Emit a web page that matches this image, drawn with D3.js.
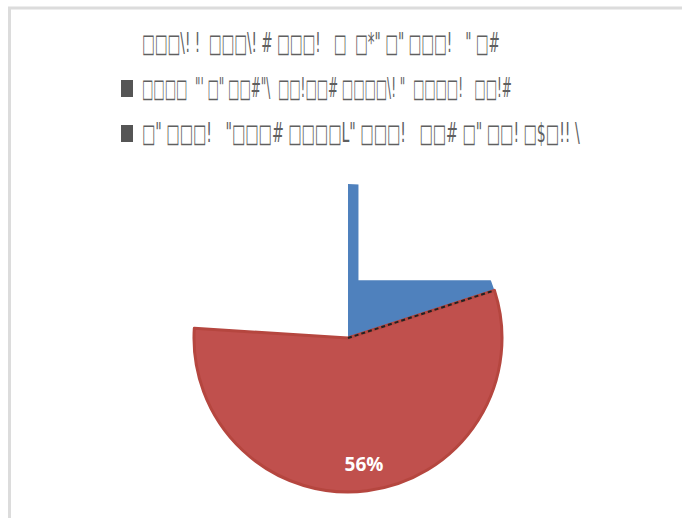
<!DOCTYPE html>
<html><head><meta charset="utf-8">
<script src="https://cdn.jsdelivr.net/npm/d3@7"></script>
<style>body{margin:0;background:#fff}svg{display:block}text{white-space:pre}</style>
</head><body>
<script>
const title = "□□□\\! !  □□□\\! # □□□!   □  □*\" □\" □□□!   \" □#";
const categories = [
  "□□□□  \"' □\" □□#\"\\  □□!□□# □□□□\\! \"  □□□□!   □□!#",
  "□\" □□□!   \"□□□# □□□□L\" □□□!   □□# □\" □□! □$□!! \\"
];
const values = [20, 56];
const total = 100;
const colors = ["#4f81bd", "#c0504d"];
const labelShown = [false, true];

const W = 682, H = 518;
const svg = d3.select("body").append("svg").attr("width", W).attr("height", H);

// frame
svg.append("line").attr("x1", 8).attr("x2", W).attr("y1", 8).attr("y2", 8).attr("stroke", "#dcdcdc").attr("stroke-width", 3);
svg.append("line").attr("x1", 9.5).attr("x2", 9.5).attr("y1", 7).attr("y2", H).attr("stroke", "#dcdcdc").attr("stroke-width", 3);

// fit a text to a given width, stretching vertically to keep glyph height
function fitText(sel, target, baseSize) {
  const n = sel.node();
  const len = n.getComputedTextLength();
  const fs = baseSize * target / len;
  sel.attr("font-size", fs);
  return baseSize / fs;
}

const textX = 142;
const lines = [
  { t: title, y: 52, w: 358, marker: false },
  { t: categories[0], y: 97, w: 370, marker: true },
  { t: categories[1], y: 142, w: 438, marker: true }
];
lines.forEach(L => {
  const grp = svg.append("g");
  const tx = grp.append("text").text(L.t)
    .attr("xml:space", "preserve")
    .attr("font-family", "DejaVu Sans").attr("font-size", 26).attr("fill", "#5f5f5f");
  const sy = fitText(tx, L.w, 26);
  tx.attr("transform", `translate(${textX},${L.y}) scale(1,${sy})`);
  if (L.marker) {
    grp.append("rect").attr("x", 121).attr("y", L.y - 17).attr("width", 12).attr("height", 17).attr("fill", "#555");
  }
});

// pie
const cx = 348, cy = 338, R = 154;
const pie = d3.pie().sort(null).value(d => d)
  .startAngle(0).endAngle(2 * Math.PI * d3.sum(values) / total);
const arcs = pie(values);
const arc = d3.arc().innerRadius(0).outerRadius(R);
const g = svg.append("g").attr("transform", `translate(${cx},${cy})`);

const defs = svg.append("defs");
const clip = defs.append("clipPath").attr("id", "blueclip");
clip.append("rect").attr("x", -2).attr("y", -R - 5).attr("width", R * 0.068 + 2).attr("height", 2 * R + 10);
clip.append("rect").attr("x", -2).attr("y", -R * 0.375).attr("width", R + 10).attr("height", R * 1.4);

g.selectAll("path.slice").data(arcs).join("path")
  .attr("class", "slice")
  .attr("d", arc)
  .attr("fill", (d, i) => colors[i])
  .attr("stroke", (d, i) => i === 1 ? "#b5463f" : "none")
  .attr("stroke-width", 3)
  .attr("stroke-linejoin", "round")
  .attr("clip-path", (d, i) => i === 0 ? "url(#blueclip)" : null);

// dashed boundary between slices
const a = arcs[0].endAngle;
g.append("line").attr("x1", 0).attr("y1", 0)
  .attr("x2", R * Math.sin(a)).attr("y2", -R * Math.cos(a))
  .attr("stroke", "#222").attr("stroke-width", 2).attr("stroke-dasharray", "4,3");

// labels
g.selectAll("text.lbl").data(arcs.filter((d, i) => labelShown[i])).join("text")
  .attr("class", "lbl")
  .attr("transform", d => {
    const m = (d.startAngle + d.endAngle) / 2;
    return `translate(${0.83 * R * Math.sin(m)},${-0.83 * R * Math.cos(m)})`;
  })
  .attr("text-anchor", "middle").attr("dy", "0.35em")
  .attr("font-family", "Open Sans, DejaVu Sans").attr("font-weight", "bold").attr("font-size", 19)
  .attr("fill", "#fff")
  .text(d => Math.round(d.value / total * 100) + "%");
</script>
</body></html>
